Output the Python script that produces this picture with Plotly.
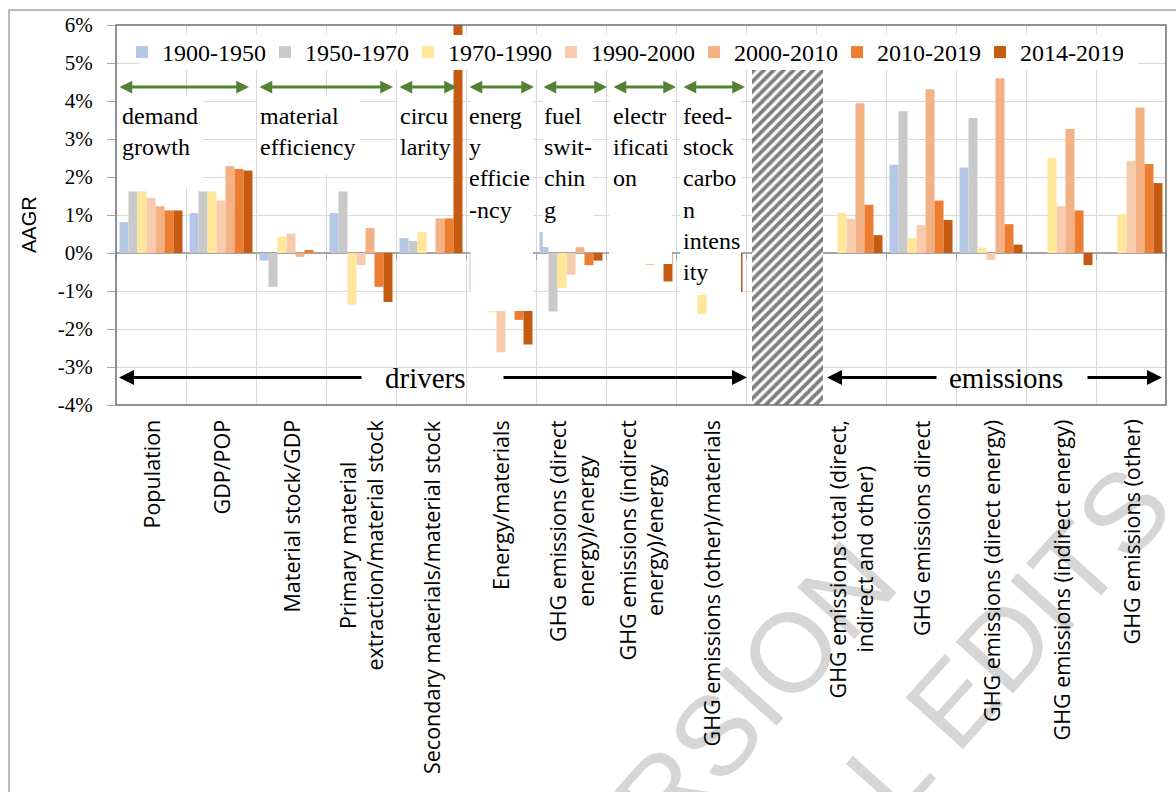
import plotly.graph_objects as go

# ---------------- data ----------------
categories = [
    "Population",
    "GDP/POP",
    "Material stock/GDP",
    "Primary material<br>extraction/material stock",
    "Secondary materials/material stock",
    "Energy/materials",
    "GHG emissions (direct<br>energy)/energy",
    "GHG emissions (indirect<br>energy)/energy",
    "GHG emissions (other)/materials",
    "",
    "GHG emissions total (direct,<br>indirect and other)",
    "GHG emissions direct",
    "GHG emissions (direct energy)",
    "GHG emissions (indirect energy)",
    "GHG emissions (other)",
]

periods = ["1900-1950", "1950-1970", "1970-1990", "1990-2000",
           "2000-2010", "2010-2019", "2014-2019"]

N = None
s1900_1950 = [0.81, 1.05, -0.20, 1.05, 0.39, -1.00, 0.55, N, N, N, N, 2.32, 2.25, N, N]
s1950_1970 = [1.62, 1.62, -0.89, 1.62, 0.32, N, -1.54, N, N, N, N, 3.73, 3.55, N, N]
s1970_1990 = [1.62, 1.62, 0.43, -1.36, 0.55, -1.56, -0.92, N, -1.61, N, 1.05, 0.39, 0.14, 2.50, 1.02]
s1990_2000 = [1.45, 1.38, 0.51, -0.32, N, -2.61, -0.57, N, N, N, 0.90, 0.73, -0.18, 1.23, 2.42]
s2000_2010 = [1.23, 2.28, -0.10, 0.66, 0.91, N, 0.15, -0.31, N, N, 3.94, 4.31, 4.60, 3.26, 3.83]
s2010_2019 = [1.12, 2.21, 0.08, -0.89, 0.91, -1.76, -0.32, N, N, N, 1.27, 1.38, 0.76, 1.12, 2.34]
s2014_2019 = [1.12, 2.17, N, -1.29, 8.00, -2.41, -0.20, -0.75, -1.03, N, 0.47, 0.87, 0.22, -0.32, 1.84]
series = [s1900_1950, s1950_1970, s1970_1990, s1990_2000, s2000_2010, s2010_2019, s2014_2019]

colors = ["#B4C7E7", "#C9C9C9", "#FFE699", "#F8CBAD", "#F4B183", "#ED7D31", "#C55A11"]

ytick_vals = [-4, -3, -2, -1, 0, 1, 2, 3, 4, 5, 6]
ytick_text = ["-4%", "-3%", "-2%", "-1%", "0%", "1%", "2%", "3%", "4%", "5%", "6%"]

group_labels = ["demand<br>growth", "material<br>efficiency", "circu<br>larity",
                "energ<br>y<br>efficie<br>-ncy", "fuel<br>swit-<br>chin<br>g",
                "electr<br>ificati<br>on", "feed-<br>stock<br>carbo<br>n<br>intens<br>ity"]

# ---------------- geometry helpers (pixel layout of the page) ----------------
W, H = 1176, 792
X0_PX, X1_PX, Y0_PX, Y1_PX = 116, 1166, 25, 405
ncat = len(categories)
ymin, ymax = -4, 6


def px2x(px):
    return (px - X0_PX) / (X1_PX - X0_PX) * ncat - 0.5


def py2y(py):
    return ymax - (py - Y0_PX) / (Y1_PX - Y0_PX) * (ymax - ymin)


def px2paper(px):
    return (px - X0_PX) / (X1_PX - X0_PX)


def py2paper(py):
    return (Y1_PX - py) / (Y1_PX - Y0_PX)


SERIF = "Liberation Serif"
SANS = "Open Sans"
GREEN = "#548235"

fig = go.Figure()
xs = list(range(ncat))
for name, vals, col in zip(periods, series, colors):
    fig.add_trace(go.Bar(x=xs, y=vals, name=name,
                         marker=dict(color=col, line=dict(width=0))))

# hatched separator between drivers and emissions
hx0, hx1, htop = px2x(752), px2x(823), py2y(70)
fig.add_trace(go.Bar(x=[(hx0 + hx1) / 2], y=[htop - ymin], base=[ymin], width=[hx1 - hx0],
                     xaxis="x2", yaxis="y", showlegend=False, hoverinfo="skip",
                     marker=dict(color="white", line=dict(width=0),
                                 pattern=dict(shape="/", fgcolor="black", bgcolor="white",
                                              size=7, solidity=0.55))))

shapes = []
# outer chart border
shapes.append(dict(type="rect", xref="paper", yref="paper",
                   x0=px2paper(9), x1=px2paper(1300), y0=py2paper(900), y1=py2paper(10),
                   line=dict(color="#a6a6a6", width=1.5), fillcolor="rgba(0,0,0,0)", layer="below"))

# white text boxes (cover gridlines / bars like the original text boxes)
boxes_px = [
    (117, 203, 96, 188),
    (257, 360, 96, 175),
    (397, 451, 96, 175),
    (470.5, 533, 96, 311),
    (542.7, 593, 96, 247),
    (609, 672, 96, 264),
    (680, 741, 96, 295),
    (140, 1138, 35, 70),   # legend background
]
for (a, b, c, d) in boxes_px:
    shapes.append(dict(type="rect", xref="x", yref="y", x0=px2x(a), x1=px2x(b),
                       y0=py2y(d), y1=py2y(c), fillcolor="white",
                       line=dict(width=0), layer="above"))

# plot frame
shapes.append(dict(type="rect", xref="paper", yref="paper", x0=0, x1=1, y0=0, y1=1,
                   line=dict(color="#6e6e6e", width=1.5), layer="above"))

annotations = []

# watermark (light grey, rotated)
ang = 48
annotations.append(dict(text="ACCEPTED VERSION", xref="paper", yref="paper",
                        x=px2paper(491), y=py2paper(986), xanchor="center", yanchor="middle",
                        textangle=-ang, showarrow=False,
                        font=dict(family="Liberation Sans", size=112, color="#d6d6d6")))
annotations.append(dict(text="SUBJECT TO FINAL EDITS", xref="paper", yref="paper",
                        x=px2paper(682), y=py2paper(1004), xanchor="center", yanchor="middle",
                        textangle=-ang, showarrow=False,
                        font=dict(family="Liberation Sans", size=112, color="#d6d6d6")))

# category labels (rotated, centred lines)
for i, lab in enumerate(categories):
    if not lab:
        continue
    annotations.append(dict(text=lab, x=i, xref="x", y=py2paper(419), yref="paper",
                            xanchor="center", yanchor="top", textangle=-90, align="center",
                            showarrow=False, borderpad=0,
                            font=dict(family=SANS, size=21.5, color="black")))

# y axis title
annotations.append(dict(text="AAGR", xref="paper", yref="paper", x=px2paper(29), y=py2paper(225),
                        xanchor="center", yanchor="middle", textangle=-90, showarrow=False,
                        font=dict(family="Liberation Sans", size=20, color="black")))

# group labels
label_left_px = [121, 259, 399, 468, 543, 612, 682]
for lab, lx in zip(group_labels, label_left_px):
    annotations.append(dict(text=lab, x=px2x(lx), y=py2y(102), xref="x", yref="y",
                            xanchor="left", yanchor="top", align="left", showarrow=False,
                            borderpad=0, font=dict(family=SERIF, size=24, color="black")))

# green double arrows
green_px = [(118, 249), (258, 393), (398, 457), (468, 534), (542, 607), (612, 676), (682, 745)]
ya = py2y(87)
for (a, b) in green_px:
    annotations.append(dict(text="", x=px2x(b), y=ya, ax=px2x(a), ay=ya,
                            xref="x", yref="y", axref="x", ayref="y", showarrow=True,
                            arrowside="end+start", arrowhead=2, startarrowhead=2,
                            arrowsize=0.85, startarrowsize=0.85, arrowwidth=3,
                            arrowcolor=GREEN, standoff=0, startstandoff=0))

# black arrows: drivers / emissions
yb = py2y(377.5)
for (tail, tip) in [(363, 119), (502, 747), (938, 827), (1086, 1162)]:
    annotations.append(dict(text="", x=px2x(tip), y=yb, ax=px2x(tail), ay=yb,
                            xref="x", yref="y", axref="x", ayref="y", showarrow=True,
                            arrowhead=2, arrowsize=1, arrowwidth=3, arrowcolor="black",
                            standoff=0))
annotations.append(dict(text="drivers", x=px2x(425), y=yb, xref="x", yref="y",
                        xanchor="center", yanchor="middle", showarrow=False,
                        font=dict(family=SERIF, size=29, color="black")))
annotations.append(dict(text="emissions", x=px2x(1006), y=yb, xref="x", yref="y",
                        xanchor="center", yanchor="middle", showarrow=False,
                        font=dict(family=SERIF, size=29, color="black")))

fig.update_layout(
    width=W, height=H,
    margin=dict(l=X0_PX, r=W - X1_PX, t=Y0_PX, b=H - Y1_PX, autoexpand=False),
    paper_bgcolor="white", plot_bgcolor="white",
    barmode="group", bargap=0.1, bargroupgap=0,
    showlegend=True,
    legend=dict(orientation="h", x=px2paper(122), y=py2paper(30), xanchor="left", yanchor="top",
                bgcolor="rgba(255,255,255,0)", borderwidth=0,
                font=dict(family=SERIF, size=24, color="black"),
                itemwidth=30, entrywidth=98, entrywidthmode="pixels", traceorder="normal"),
    xaxis=dict(range=[-0.5, ncat - 0.5], tickvals=[i - 0.5 for i in range(ncat + 1)],
               showticklabels=False, ticks="outside", ticklen=6, tickcolor="#a6a6a6",
               tickwidth=1, showgrid=True, gridcolor="#d9d9d9", gridwidth=1,
               showline=True, linecolor="#a6a6a6", linewidth=1.5,
               anchor="free", position=py2paper(253), zeroline=False, layer="below traces",
               fixedrange=True),
    xaxis2=dict(range=[-0.5, ncat - 0.5], overlaying="x", visible=False, anchor="y"),
    yaxis=dict(range=[ymin, ymax], tickvals=ytick_vals, ticktext=ytick_text,
               ticks="outside", ticklen=8, tickcolor="#a6a6a6", showgrid=True,
               gridcolor="#d9d9d9", gridwidth=1, zeroline=False, showline=False,
               tickfont=dict(family=SERIF, size=21, color="black"), ticklabelstandoff=10),
    shapes=shapes,
    annotations=annotations,
)

fig.write_html("out.html", config={"displayModeBar": False},
               post_script="document.body.style.margin='0px';document.body.style.overflow='hidden';")
